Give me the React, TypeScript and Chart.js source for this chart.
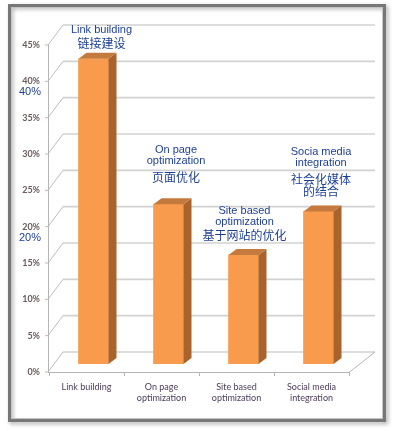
import React, { useEffect, useRef } from "react";
import { Chart, registerables } from "chart.js";

Chart.register(...registerables);

// ---- data ----
const categories: string[][] = [
  ["Link building"],
  ["On page", "optimization"],
  ["Site based", "optimization"],
  ["Social media", "integration"],
];
const shares: number[] = [42, 22, 15, 21];
const yMax = 45;
const yStep = 5;
const noteEnglish: string[][] = [
  ["Link building"],
  ["On page", "optimization"],
  ["Site based", "optimization"],
  ["Socia media", "integration"],
];
const noteChinese: string[][] = [["链接建设"], ["页面优化"], ["基于网站的优化"], ["社会化媒体", "的结合"]];
const axisNotes: number[] = [40, 20];

// ---- layout / style (not data) ----
const W = 396;
const H = 431;
const noteLayout = [
  { dx: 8, en: -29, zh: -15 },
  { dx: 7.5, en: -54, zh: -27 },
  { dx: 1, en: -44, zh: -20 },
  { dx: 2.5, en: -59, zh: -32 },
];
const BLUE = "#1d3f98";
const DEPTH_X = 8;
const DEPTH_Y = -6;

const framePlugin = {
  id: "frame",
  beforeDraw(chart: any) {
    const ctx = chart.ctx;
    ctx.save();
    ctx.fillStyle = "#ffffff";
    ctx.fillRect(0, 0, W, H);
    ctx.shadowColor = "rgba(0,0,0,0.35)";
    ctx.shadowBlur = 4;
    ctx.shadowOffsetX = 2;
    ctx.shadowOffsetY = 2;
    ctx.strokeStyle = "#777777";
    ctx.lineWidth = 3;
    ctx.strokeRect(9.5, 5.5, 375, 415);
    ctx.restore();
    ctx.save();
    ctx.strokeStyle = "#c4c4c4";
    ctx.lineWidth = 1;
    ctx.strokeRect(11.5, 7.5, 371, 411);
    ctx.restore();
  },
};

const gridPlugin = {
  id: "grid3d",
  beforeDatasetsDraw(chart: any) {
    const ctx = chart.ctx;
    const y = chart.scales.y;
    const area = chart.chartArea;
    const fx = area.left - 8; // front plane left
    const bx = area.left + 7; // back plane left
    const frx = area.right - 7; // front plane right
    const brx = area.right + 19; // back plane right
    ctx.save();
    for (let v = 0; v <= yMax; v += yStep) {
      const p = y.getPixelForValue(v);
      ctx.strokeStyle = "#d2d2d2";
      ctx.lineWidth = 1.6;
      ctx.beginPath();
      ctx.moveTo(bx, p - 12);
      ctx.lineTo(brx, p - 12);
      ctx.stroke();
      ctx.strokeStyle = "#bdbdbd";
      ctx.lineWidth = 1;
      ctx.beginPath();
      ctx.moveTo(fx - 3, p + 8);
      ctx.lineTo(fx, p + 8);
      ctx.lineTo(bx, p - 12);
      ctx.stroke();
    }
    const p0 = y.getPixelForValue(0);
    const pTop = y.getPixelForValue(yMax);
    ctx.strokeStyle = "#b5b5b5";
    ctx.lineWidth = 1;
    ctx.beginPath();
    ctx.moveTo(fx + 0.5, pTop + 8);
    ctx.lineTo(fx + 0.5, p0 + 8);
    ctx.moveTo(fx, p0 + 8.5);
    ctx.lineTo(frx, p0 + 8.5);
    ctx.lineTo(brx, p0 - 12);
    ctx.stroke();
    // category tick marks on the front floor edge
    const n = categories.length;
    const step = (area.right - area.left) / n;
    ctx.beginPath();
    for (let i = 0; i <= n; i++) {
      const x = Math.round(area.left - 7 + i * step) + 0.5;
      ctx.moveTo(x, p0 + 8);
      ctx.lineTo(x, p0 + 12);
    }
    ctx.stroke();
    ctx.restore();
  },
  afterDatasetsDraw(chart: any) {
    const ctx = chart.ctx;
    const meta = chart.getDatasetMeta(0);
    ctx.save();
    meta.data.forEach((bar: any, i: number) => {
      const { x, y, base, width } = bar.getProps(["x", "y", "base", "width"], true);
      const l = x - width / 2;
      const r = x + width / 2;
      ctx.fillStyle = "#a9632c";
      ctx.beginPath();
      ctx.moveTo(r, y);
      ctx.lineTo(r + DEPTH_X, y + DEPTH_Y);
      ctx.lineTo(r + DEPTH_X, base + DEPTH_Y);
      ctx.lineTo(r, base);
      ctx.closePath();
      ctx.fill();
      ctx.fillStyle = "#c47a3c";
      ctx.beginPath();
      ctx.moveTo(l, y);
      ctx.lineTo(r, y);
      ctx.lineTo(r + DEPTH_X, y + DEPTH_Y);
      ctx.lineTo(l + DEPTH_X, y + DEPTH_Y);
      ctx.closePath();
      ctx.fill();

      // annotations
      const lay = noteLayout[i];
      const cx = x + lay.dx;
      ctx.fillStyle = BLUE;
      ctx.textAlign = "center";
      ctx.textBaseline = "middle";
      ctx.font = "11px 'Liberation Sans', Arial, sans-serif";
      noteEnglish[i].forEach((t, k) => ctx.fillText(t, cx, y + lay.en + k * 11));
      ctx.font = "12px 'Noto Sans CJK SC', sans-serif";
      noteChinese[i].forEach((t, k) => ctx.fillText(t, cx, y + lay.zh + k * 12.5));
    });
    // blue notes beside the value axis
    const ys = chart.scales.y;
    ctx.fillStyle = BLUE;
    ctx.font = "11px 'Liberation Sans', Arial, sans-serif";
    ctx.textAlign = "center";
    ctx.textBaseline = "middle";
    axisNotes.forEach((v) => {
      ctx.fillText(v + "%", 30, ys.getPixelForValue(v) + 8 + 11);
    });
    ctx.restore();
  },
};

export default function App() {
  const ref = useRef<HTMLCanvasElement | null>(null);
  useEffect(() => {
    if (!ref.current) return;
    const chart = new Chart(ref.current, {
      type: "bar",
      data: {
        labels: categories,
        datasets: [
          {
            data: shares,
            backgroundColor: "#f89b4c",
            barThickness: 30,
          },
        ],
      },
      options: {
        responsive: false,
        animation: false,
        layout: { padding: { left: 0, right: 40, top: 37, bottom: 0 } },
        plugins: { legend: { display: false }, tooltip: { enabled: false } },
        scales: {
          x: {
            grid: { display: false, drawTicks: false },
            border: { display: false },
            ticks: {
              padding: 18,
              labelOffset: -7,
              color: "#4b3b5a",
              font: { family: "Lato, 'Open Sans', sans-serif", size: 9 },
              maxRotation: 0,
              autoSkip: false,
            },
            afterFit: (s: any) => {
              s.height = 67;
            },
          },
          y: {
            min: 0,
            max: yMax,
            grid: { display: false, drawTicks: false },
            border: { display: false },
            ticks: {
              stepSize: yStep,
              padding: 16,
              labelOffset: 8,
              color: "#6b5a5a",
              font: { family: "Lato, 'Open Sans', sans-serif", size: 9, weight: "bold" },
              callback: (v: any) => v + "%",
            },
            afterFit: (s: any) => {
              s.width = 56;
            },
          },
        },
      },
      plugins: [framePlugin, gridPlugin],
    });
    return () => chart.destroy();
  }, []);
  return (
    <div style={{ position: "absolute", left: 0, top: 0, width: W, height: H }}>
      <canvas ref={ref} width={W} height={H} style={{ display: "block" }} />
    </div>
  );
}
